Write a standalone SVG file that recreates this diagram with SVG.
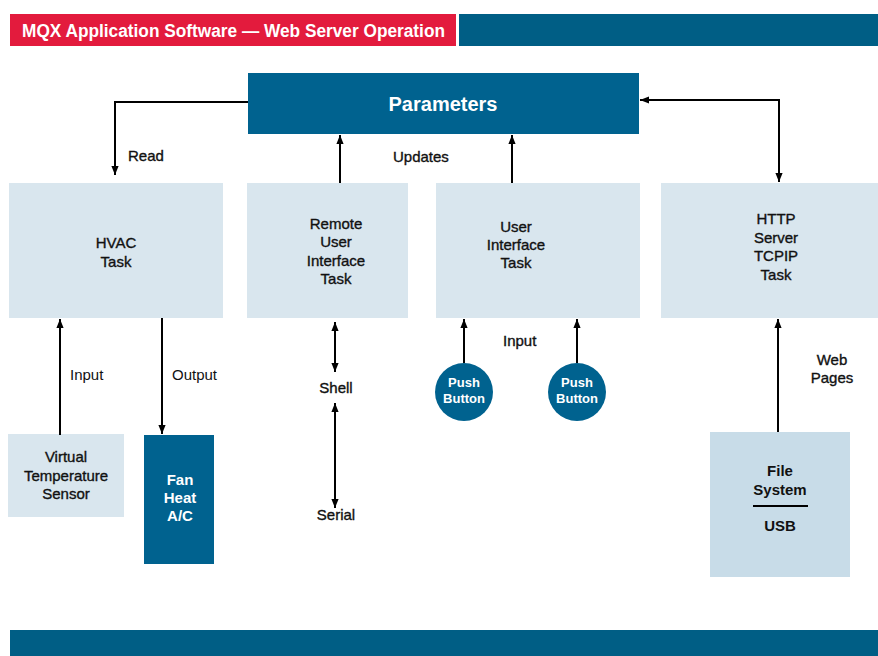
<svg xmlns="http://www.w3.org/2000/svg" width="878" height="656" viewBox="0 0 878 656">
<defs>
<marker id="ah" viewBox="0 0 10 10" refX="10" refY="5" markerWidth="9" markerHeight="9" markerUnits="userSpaceOnUse" orient="auto-start-reverse">
<path d="M0,1 L10,5 L0,9 z" fill="#000"/>
</marker>
<style>
text{font-family:"Liberation Sans",Arial,sans-serif;}
.t{font-size:15px;fill:#111;text-anchor:middle;stroke:#111;stroke-width:0.35px;}
.w{font-size:15px;fill:#fff;font-weight:bold;text-anchor:middle;}
.lb{font-size:15px;fill:#111;}
.m{stroke:#111;stroke-width:0.35px;}
.light{fill:#d9e6ee;}
.dark{fill:#00628f;}
.c{stroke:#000;stroke-width:2;fill:none;}
</style>
</defs>
<rect width="878" height="656" fill="#fff"/>
<g id="header">
<rect x="10" y="14" width="446" height="32" fill="#e31b3d"/>
<rect x="459" y="14" width="419" height="32" fill="#005e85"/>
<text x="22" y="37" font-size="18" font-weight="bold" fill="#fff" textLength="423" lengthAdjust="spacingAndGlyphs">MQX Application Software — Web Server Operation</text>
</g>
<g id="footer"><rect x="10" y="630" width="868" height="26" fill="#005e85"/></g>
<g id="parameters">
<rect class="dark" x="248" y="73" width="391" height="61"/>
<text x="443" y="111" font-size="20" font-weight="bold" fill="#fff" text-anchor="middle">Parameters</text>
</g>
<g id="hvac">
<rect class="light" x="9" y="183" width="214" height="135"/>
<text class="t" x="116" y="248">HVAC</text>
<text class="t" x="116" y="267">Task</text>
</g>
<g id="remote-ui">
<rect class="light" x="247" y="183" width="161" height="135"/>
<text class="t" x="336" y="229">Remote</text>
<text class="t" x="336" y="247">User</text>
<text class="t" x="336" y="266">Interface</text>
<text class="t" x="336" y="284">Task</text>
</g>
<g id="user-ui">
<rect class="light" x="436" y="183" width="204" height="135"/>
<text class="t" x="516" y="232">User</text>
<text class="t" x="516" y="250">Interface</text>
<text class="t" x="516" y="268">Task</text>
</g>
<g id="http">
<rect class="light" x="661" y="183" width="217" height="135"/>
<text class="t" x="776" y="224">HTTP</text>
<text class="t" x="776" y="243">Server</text>
<text class="t" x="776" y="261">TCPIP</text>
<text class="t" x="776" y="280">Task</text>
</g>
<g id="sensor">
<rect class="light" x="8" y="434" width="116" height="83"/>
<text class="t" x="66" y="462">Virtual</text>
<text class="t" x="66" y="481">Temperature</text>
<text class="t" x="66" y="499">Sensor</text>
</g>
<g id="fan">
<rect class="dark" x="144" y="435" width="70" height="129"/>
<text class="w" x="180" y="485">Fan</text>
<text class="w" x="180" y="503">Heat</text>
<text class="w" x="180" y="521">A/C</text>
</g>
<g id="push1">
<circle class="dark" cx="464" cy="392" r="29"/>
<text class="w" x="464" y="387" style="font-size:13px">Push</text>
<text class="w" x="464" y="403" style="font-size:13px">Button</text>
</g>
<g id="push2">
<circle class="dark" cx="577" cy="392" r="29"/>
<text class="w" x="577" y="387" style="font-size:13px">Push</text>
<text class="w" x="577" y="403" style="font-size:13px">Button</text>
</g>
<g id="filesystem">
<rect x="710" y="432" width="140" height="145" fill="#c8dce8"/>
<text class="t" x="780" y="476" style="font-weight:bold;stroke-width:0">File</text>
<text class="t" x="780" y="495" style="font-weight:bold;stroke-width:0">System</text>
<line x1="753" y1="506" x2="808" y2="506" stroke="#000" stroke-width="2"/>
<text class="t" x="780" y="531" style="font-weight:bold;stroke-width:0">USB</text>
</g>
<g id="connectors">
<path class="c" d="M248,102 H115 V175" marker-end="url(#ah)"/>
<path class="c" d="M340,183 V135" marker-end="url(#ah)"/>
<path class="c" d="M512,183 V135" marker-end="url(#ah)"/>
<path class="c" d="M779,182 V100 H640" marker-start="url(#ah)" marker-end="url(#ah)"/>
<path class="c" d="M60,435 V319" marker-end="url(#ah)"/>
<path class="c" d="M162,318 V434" marker-end="url(#ah)"/>
<path class="c" d="M335,322 V372" marker-start="url(#ah)" marker-end="url(#ah)"/>
<path class="c" d="M335,403 V508" marker-start="url(#ah)" marker-end="url(#ah)"/>
<path class="c" d="M464,363 V319" marker-end="url(#ah)"/>
<path class="c" d="M577,363 V319" marker-end="url(#ah)"/>
<path class="c" d="M778,432 V319" marker-end="url(#ah)"/>
</g>
<g id="labels">
<text class="lb m" x="128" y="161">Read</text>
<text class="lb m" x="393" y="162">Updates</text>
<text class="lb" x="70" y="380">Input</text>
<text class="lb" x="172" y="380">Output</text>
<text class="t" x="336" y="393">Shell</text>
<text class="t" x="336" y="520">Serial</text>
<text class="lb m" x="503" y="346">Input</text>
<text class="t" x="832" y="365">Web</text>
<text class="t" x="832" y="383">Pages</text>
</g>
</svg>
